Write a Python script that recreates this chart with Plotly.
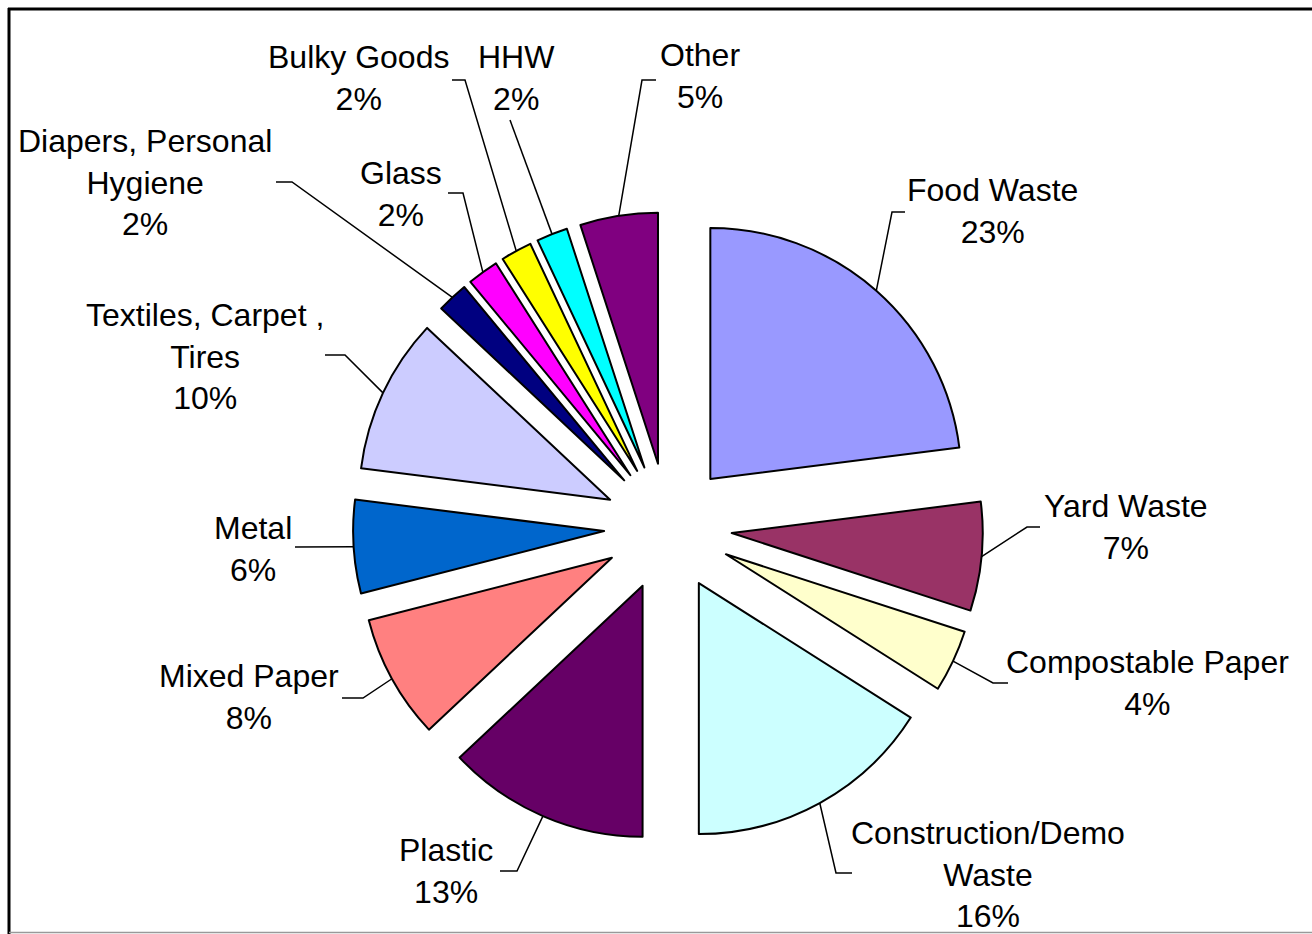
import math
import plotly.graph_objects as go

# ---------------- data ----------------
categories = ["Food Waste", "Yard Waste", "Compostable Paper", "Construction/Demo Waste",
              "Plastic", "Mixed Paper", "Metal", "Textiles, Carpet, Tires",
              "Diapers, Personal Hygiene", "Glass", "Bulky Goods", "HHW", "Other"]
label_lines = ["Food Waste", "Yard Waste", "Compostable Paper", "Construction/Demo<br>Waste",
               "Plastic", "Mixed Paper", "Metal", "Textiles, Carpet ,<br>Tires",
               "Diapers, Personal<br>Hygiene", "Glass", "Bulky Goods", "HHW", "Other"]
percent = [23, 7, 4, 16, 13, 8, 6, 10, 2, 2, 2, 2, 5]
colors = ["#9999FF", "#993366", "#FFFFCC", "#CCFFFF", "#660066", "#FF8080", "#0066CC",
          "#CCCCFF", "#000080", "#FF00FF", "#FFFF00", "#00FFFF", "#800080"]

# ---------------- layout (pixels) ----------------
W, H = 1312, 934
CX, CY, R = 668, 527, 251
PULL = 0.255
FONT = dict(family="Liberation Sans, Arial, sans-serif", size=32, color="black")

label_pos = [(992, 211), (1126, 527), (1147, 683), (988, 874), (446, 871), (249, 697),
             (253, 549), (205, 356), (145, 182), (401, 194), (358, 78), (516, 78), (700, 76)]
leader_elbow = [(892, 212), (1027, 527), (993, 683), (836, 873), (517, 871), (363, 698),
                (310, 547), (345, 355), (292, 182), (463, 193), (465, 80), (510, 120), (642, 80)]
leader_end = [(905, 212), (1040, 527), (1008, 683), (852, 873), (500, 871), (342, 698),
              (295, 547), (325, 355), (276, 182), (448, 193), (452, 80), (510, 120), (656, 80)]

half = R * (1 + PULL)
dom_x = [(CX - half) / W, (CX + half) / W]
dom_y = [1 - (CY + half) / H, 1 - (CY - half) / H]

fig = go.Figure()
fig.add_trace(go.Pie(
    labels=categories, values=percent, sort=False, direction="clockwise", rotation=0,
    pull=[PULL] * len(percent), textinfo="none", hoverinfo="label+percent",
    marker=dict(colors=colors, line=dict(color="black", width=2)),
    domain=dict(x=dom_x, y=dom_y), showlegend=False,
))

# leader lines: start on the outer arc at each slice's bisector
total = sum(percent)
cum = 0
for i, v in enumerate(percent):
    mid = (cum + v / 2) / total * 2 * math.pi
    cum += v
    pcx = CX + PULL * R * math.sin(mid)
    pcy = CY - PULL * R * math.cos(mid)
    sx = pcx + R * math.sin(mid)
    sy = pcy - R * math.cos(mid)
    ex, ey = leader_elbow[i]
    tx, ty = leader_end[i]
    fig.add_trace(go.Scatter(
        x=[sx, ex, tx], y=[sy, ey, ty], mode="lines",
        line=dict(color="black", width=1.5), hoverinfo="skip", showlegend=False,
        xaxis="x", yaxis="y"))
    lx, ly = label_pos[i]
    fig.add_annotation(x=lx, y=ly, xref="x", yref="y", text=f"{label_lines[i]}<br>{v}%",
                       showarrow=False, xanchor="center", yanchor="middle", align="center",
                       font=FONT)

fig.update_layout(
    width=W, height=H, margin=dict(l=0, r=0, t=0, b=0),
    paper_bgcolor="white", plot_bgcolor="rgba(0,0,0,0)",
    xaxis=dict(range=[0, W], visible=False, domain=[0, 1], fixedrange=True),
    yaxis=dict(range=[H, 0], visible=False, domain=[0, 1], fixedrange=True),
    shapes=[
        dict(type="line", xref="x", yref="y", x0=8, y0=9, x1=W, y1=9,
             line=dict(color="black", width=3)),
        dict(type="line", xref="x", yref="y", x0=9, y0=8, x1=9, y1=H,
             line=dict(color="black", width=3)),
        dict(type="line", xref="x", yref="y", x0=9, y0=932.5, x1=W, y1=932.5,
             line=dict(color="#999999", width=1.5)),
    ],
)

fig.write_html("out.html", config={"displayModeBar": False},
               post_script="document.body.style.margin='0px';document.body.style.overflow='hidden';")
